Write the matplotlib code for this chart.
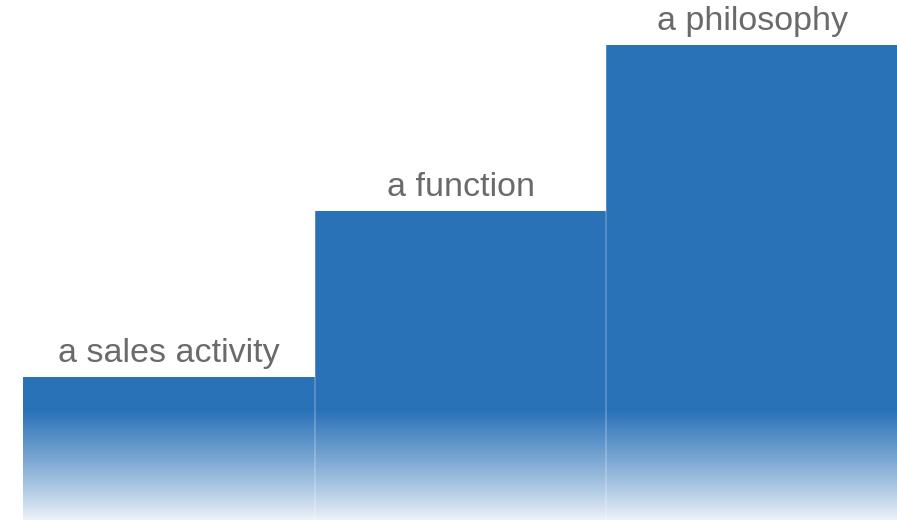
import matplotlib.pyplot as plt
import numpy as np
from matplotlib.colors import LinearSegmentedColormap

labels = ["a sales activity", "a function", "a philosophy"]
levels = [1, 2, 3]

BLUE = "#2a72b8"
FADE_TOP = 0.80   # data y where the fade starts
Y_MIN, Y_MAX = 0.139, 3.271

plt.rcParams["font.family"] = ["Liberation Sans", "DejaVu Sans"]

fig = plt.figure(figsize=(8.97, 5.2), dpi=100)
ax = fig.add_axes([0, 0, 1, 1])

x = np.arange(len(levels))
bars = ax.bar(x, levels, width=1.0, align="edge", color="none", linewidth=0)

cmap = LinearSegmentedColormap.from_list("fade", ["#eef3f9", BLUE])
grad = np.linspace(0, 1, 256)[:, None] ** 0.9
for bar in bars:
    x0, w, h = bar.get_x(), bar.get_width(), bar.get_height()
    ax.imshow(grad, cmap=cmap, vmin=0, vmax=1, aspect="auto",
              origin="lower", interpolation="bilinear",
              extent=[x0, x0 + w, Y_MIN, FADE_TOP], zorder=1)
    ax.add_patch(plt.Rectangle((x0, FADE_TOP), w, h - FADE_TOP,
                               color=BLUE, linewidth=0, zorder=1))

for xi in x[1:]:
    ax.axvline(xi, color="white", alpha=0.25, linewidth=1.2, zorder=2)

for xi, lv, lab in zip(x, levels, labels):
    ax.annotate(lab, (xi + 0.5, lv), xytext=(0, 11), textcoords="offset points",
                ha="center", va="baseline", fontsize=24.5, color="#6a6a6a")

ax.set_xlim(-0.079, 2.996)
ax.set_ylim(Y_MIN, Y_MAX)
ax.axis("off")

fig.savefig("out.png", dpi=100, facecolor="white")
